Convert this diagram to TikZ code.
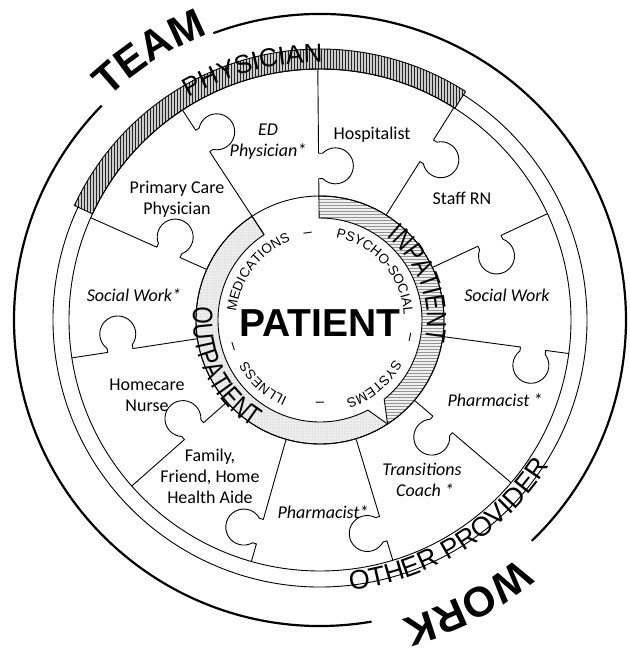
\documentclass[tikz,border=0pt]{standalone}
\usepackage{fontspec}
\setmainfont{Carlito}
\newfontfamily\arialf{Liberation Sans}
\newfontfamily\narrowf[FakeStretch=0.8]{Liberation Sans}
\usetikzlibrary{decorations.text,patterns}
\tikzset{
  lbl/.style={font=\fontsize{18}{21}\selectfont, align=center, inner sep=0pt},
  ilbl/.style={font=\fontsize{18}{21}\selectfont\itshape, align=center, inner sep=0pt},
  sepline/.style={line width=0.9pt},
  ringline/.style={line width=0.9pt},
  outerline/.style={line width=2.2pt},
  dashmark/.style={font=\arialf\fontsize{15}{15}\selectfont, inner sep=0pt}
}
\begin{document}
\begin{tikzpicture}[x=1pt,y=1pt,line join=round]
\useasboundingbox (-320,-330) rectangle (309,320);

% physician band
\fill[gray!40] (57.5:251) arc[start angle=57.5,end angle=155,radius=251] -- (155:271) arc[start angle=155,end angle=57.5,radius=271] -- cycle;
\fill[pattern=vertical lines, pattern color=black!85] (57.5:251) arc[start angle=57.5,end angle=155,radius=251] -- (155:271) arc[start angle=155,end angle=57.5,radius=271] -- cycle;
\draw[ringline] (57.5:251) arc[start angle=57.5,end angle=155,radius=251] -- (155:271) arc[start angle=155,end angle=57.5,radius=271] -- cycle;

% inner bands
\fill[gray!12] (90.5:124) arc[start angle=90.5,end angle=-57,radius=124] -- (-51:102) arc[start angle=-51,end angle=90.5,radius=102] -- cycle;
\fill[pattern=horizontal lines, pattern color=gray!85] (90.5:124) arc[start angle=90.5,end angle=-57,radius=124] -- (-51:102) arc[start angle=-51,end angle=90.5,radius=102] -- cycle;
\draw[ringline] (90.5:124) arc[start angle=90.5,end angle=-57,radius=124] -- (-51:102) arc[start angle=-51,end angle=90.5,radius=102] -- cycle;

\fill[gray!14] (-57:124) arc[start angle=-57,end angle=-236.77,radius=124] -- (-236.77:102) arc[start angle=-236.77,end angle=-62,radius=102] -- cycle;
\fill[pattern=dots, pattern color=gray!60] (-57:124) arc[start angle=-57,end angle=-236.77,radius=124] -- (-236.77:102) arc[start angle=-236.77,end angle=-62,radius=102] -- cycle;
\draw[ringline] (-57:124) arc[start angle=-57,end angle=-236.77,radius=124] -- (-236.77:102) arc[start angle=-236.77,end angle=-62,radius=102] -- cycle;

% circles
\draw[ringline] (0,0) circle[radius=124];
\draw[ringline] (0,0) circle[radius=251];
\draw[ringline] (57.5:267) arc[start angle=57.5,end angle=-205,radius=267];
\draw[outerline] (110.4:306) arc[start angle=110.4,end angle=-46.2,radius=306];
\draw[outerline] (-80.3:306) arc[start angle=-80.3,end angle=-224.5,radius=306];

% puzzle separators with knobs
\foreach \k/\rk/\rs in {0/154/124,1/200/124,2/187/124,3/215/124,4/161/124,5/218/124,6/220/124,7/168/124,8/202/124,9/166/124,10/214/102}{
  \begin{scope}[rotate={90.5-32.727*\k}]
    \draw[sepline] (\rs,0) -- ({\rk-12.7},0) -- ++(0,-4) arc[start angle=135,end angle=405,radius=18] -- ++(0,4) -- (251,0);
  \end{scope}
}

% big outer texts
\path[decoration={text along path, text align=center, text={|\arialf\bfseries\fontsize{42}{42}\selectfont|TEAM}}, decorate] (150:307) arc[start angle=150,end angle=95,radius=307];
\path[decoration={text along path, text align=center, text={|\arialf\bfseries\fontsize{42}{42}\selectfont|WORK}}, decorate] (-35:310) arc[start angle=-35,end angle=-90,radius=310];
\path[decoration={text along path, text align=center, text={|\arialf\fontsize{26}{26}\selectfont|PHYSICIAN}}, decorate] (140:258) arc[start angle=140,end angle=70,radius=258];
\path[decoration={text along path, text align=center, text={|\arialf\fontsize{27}{27}\selectfont|OTHER PROVIDER}}, decorate] (-100:272) arc[start angle=-100,end angle=-16,radius=272];

% band texts
\path[decoration={text along path, text align=center, text={|\narrowf\fontsize{28}{28}\selectfont|INPATIENT}}, decorate] (80:107) arc[start angle=80,end angle=-40,radius=107];
\path[decoration={text along path, text align=center, text={|\narrowf\fontsize{28}{28}\selectfont|OUTPATIENT}}, decorate] (150:127) arc[start angle=150,end angle=262,radius=127];

% inner ring texts
\path[decoration={text along path, text align=center, text={|\arialf\fontsize{13.5}{14}\selectfont|MEDICATIONS}}, decorate] (202.5:84) arc[start angle=202.5,end angle=82.5,radius=84];
\path[decoration={text along path, text align=center, text={|\arialf\fontsize{13.5}{14}\selectfont|PSYCHO-SOCIAL}}, decorate] (101.3:84) arc[start angle=101.3,end angle=-18.7,radius=84];
\path[decoration={text along path, text align=center, text={|\arialf\fontsize{13.5}{14}\selectfont|SYSTEMS}}, decorate] (10:84) arc[start angle=10,end angle=-110,radius=84];
\path[decoration={text along path, text align=center, text={|\arialf\fontsize{13.5}{14}\selectfont|ILLNESS}}, decorate] (-71.8:84) arc[start angle=-71.8,end angle=-191.8,radius=84];

\node[dashmark, rotate=8] (d1) at (98:86) {\textendash};
\node[dashmark, rotate=-101] (d2) at (-11:90) {\textendash};
\node[dashmark, rotate=0] (d3) at (-90:84) {\textendash};
\node[dashmark, rotate=-253] (d4) at (-163:89) {\textendash};

\node[font=\arialf\bfseries\fontsize{39}{42}\selectfont, inner sep=0pt] (patient) at (0,-3) {PATIENT};

% labels
\node[lbl] (hosp) at (52,185) {Hospitalist};
\node[lbl] (staff) at (142,122) {Staff RN};
\node[ilbl] (sw1) at (187,25) {Social Work};
\node[ilbl] (ph1) at (175,-80) {Pharmacist *};
\node[ilbl] (tc) at (102,-160) {Transitions\\\hspace*{6pt}Coach *};
\node[ilbl] (ph2) at (3,-192) {Pharmacist*};
\node[lbl] (fam) at (-110,-156) {Family,\\Friend, Home\\Health Aide};
\node[lbl] (home) at (-173,-75) {Homecare\\Nurse};
\node[ilbl] (sw2) at (-186,25) {Social Work*};
\node[lbl] (pcp) at (-143,121) {Primary Care\\Physician};
\node[ilbl] (ed) at (-52,178) {ED\\Physician*};
\end{tikzpicture}
\end{document}
